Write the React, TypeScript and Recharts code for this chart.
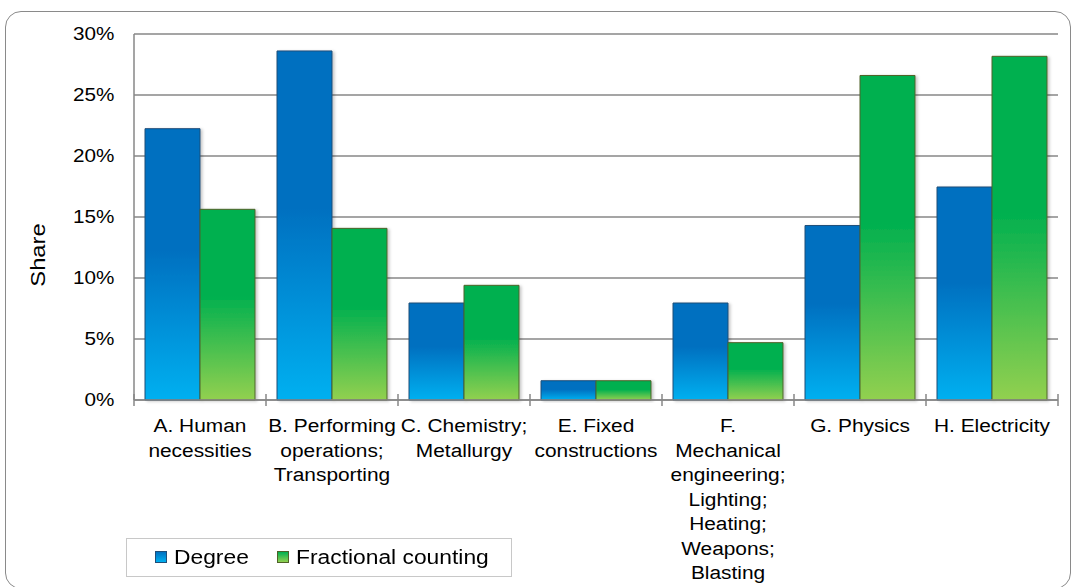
import React from 'react';
import { BarChart, Bar, XAxis, YAxis, CartesianGrid, Legend, Rectangle } from 'recharts';

// IPC sections, with the line breaks used under the axis
const categories = [
  'A. Human\nnecessities',
  'B. Performing\noperations;\nTransporting',
  'C. Chemistry;\nMetallurgy',
  'E. Fixed\nconstructions',
  'F.\nMechanical\nengineering;\nLighting;\nHeating;\nWeapons;\nBlasting',
  'G. Physics',
  'H. Electricity',
];
const degreeShare = [0.2224, 0.2861, 0.0795, 0.0158, 0.0795, 0.143, 0.1746];
const fractionalShare = [0.1563, 0.1407, 0.094, 0.0158, 0.047, 0.266, 0.2817];
const shareTicks = [0, 0.05, 0.1, 0.15, 0.2, 0.25, 0.3];

const data = categories.map((field, i) => ({
  field,
  degree: degreeShare[i],
  fractional: fractionalShare[i],
}));

const W = 1077;
const H = 587;
const MARGIN = { top: 34, right: 19, bottom: 0, left: 0 };
const Y_AXIS_W = 134;
const X_AXIS_H = 187;
const BAND = (W - MARGIN.left - MARGIN.right - Y_AXIS_W) / categories.length;

const FONT = '"Liberation Sans", Arial, Helvetica, sans-serif';
const GRID = '#878787';

const pct = (v: number) => `${Math.round(v * 100)}%`;

const CategoryTick = (props: any) => {
  const { x, y, payload, index } = props;
  const lines = String(payload.value).split('\n');
  const half = BAND / 2;
  return (
    <g>
      <line x1={x - half} x2={x - half} y1={y - 6} y2={y + 6} stroke={GRID} strokeWidth={1.5} />
      {index === categories.length - 1 && (
        <line x1={x + half} x2={x + half} y1={y - 6} y2={y + 6} stroke={GRID} strokeWidth={1.5} />
      )}
      <g transform={`translate(${x},${y})`}>
        <text transform="scale(1.16,1)" textAnchor="middle" fontSize={18} fontFamily={FONT} fill="#000">
          {lines.map((line, i) => (
            <tspan key={i} x={0} y={32.5 + i * 24.5}>
              {line}
            </tspan>
          ))}
        </text>
      </g>
    </g>
  );
};

const ShareTick = (props: any) => {
  const { x, y, payload } = props;
  return (
    <g transform={`translate(${x},${y})`}>
      <text transform="scale(1.15,1)" textAnchor="end" dy="0.36em" fontSize={18} fontFamily={FONT} fill="#000">
        {pct(payload.value)}
      </text>
    </g>
  );
};

const ShareLabel = () => (
  <g transform="translate(45,255) rotate(-90)">
    <text transform="scale(1.13,1)" textAnchor="middle" fontSize={21} fontFamily={FONT} fill="#000">
      Share
    </text>
  </g>
);

const swatch = (from: string, to: string, edge: string): React.CSSProperties => ({
  position: 'absolute',
  top: 12,
  width: 12,
  height: 12,
  background: `linear-gradient(${from}, ${to})`,
  border: `1px solid ${edge}`,
  boxSizing: 'border-box',
});

const legendText: React.CSSProperties = {
  position: 'absolute',
  top: 6,
  fontSize: 19.5,
  lineHeight: '24px',
  transform: 'scaleX(1.17)',
  transformOrigin: 'left center',
  whiteSpace: 'nowrap',
  color: '#000',
};

const LegendBox = () => (
  <div
    style={{
      position: 'relative',
      width: 386,
      height: 39,
      boxSizing: 'border-box',
      border: '1.5px solid #c8c8c8',
      background: '#fff',
      fontFamily: FONT,
    }}
  >
    <span style={{ ...swatch('#0070c0', '#00b0f0', '#1f4e79'), left: 28 }} />
    <span style={{ ...legendText, left: 47 }}>Degree</span>
    <span style={{ ...swatch('#00b050', '#92d050', '#4f6228'), left: 150 }} />
    <span style={{ ...legendText, left: 169 }}>Fractional counting</span>
  </div>
);

const ShadowBar = (props: any) => <Rectangle {...props} filter="url(#barShadow)" />;

export default function App() {
  return (
    <div
      style={{
        position: 'absolute',
        left: 0,
        top: 0,
        width: W,
        height: H,
        overflow: 'hidden',
        background: '#fff',
        fontFamily: FONT,
      }}
    >
      <div
        style={{
          position: 'absolute',
          left: 5,
          top: 11,
          width: 1066,
          height: 578,
          boxSizing: 'border-box',
          border: '1.5px solid #8a8a8a',
          borderRadius: 16,
        }}
      />
      <BarChart width={W} height={H} data={data} margin={MARGIN} barGap={0} barSize={55}>
        <defs>
          <linearGradient id="degreeFill" x1="0" y1="0" x2="0" y2="1">
            <stop offset="0" stopColor="#0070c0" />
            <stop offset="0.45" stopColor="#0070c0" />
            <stop offset="1" stopColor="#00b0f0" />
          </linearGradient>
          <linearGradient id="fractionalFill" x1="0" y1="0" x2="0" y2="1">
            <stop offset="0" stopColor="#00b050" />
            <stop offset="0.45" stopColor="#00b050" />
            <stop offset="1" stopColor="#92d050" />
          </linearGradient>
          <filter id="barShadow" x="-10%" y="-10%" width="130%" height="125%">
            <feDropShadow dx="2" dy="1" stdDeviation="1.5" floodColor="#000" floodOpacity="0.22" />
          </filter>
        </defs>
        <CartesianGrid vertical={false} stroke={GRID} strokeWidth={1.5} />
        <XAxis
          dataKey="field"
          height={X_AXIS_H}
          interval={0}
          tickLine={false}
          tickSize={0}
          tickMargin={0}
          axisLine={{ stroke: GRID, strokeWidth: 1.5 }}
          tick={<CategoryTick />}
        />
        <YAxis
          width={Y_AXIS_W}
          domain={[0, 0.3]}
          ticks={shareTicks}
          interval={0}
          tickLine={false}
          tickSize={0}
          tickMargin={19.5}
          axisLine={{ stroke: GRID, strokeWidth: 1.5 }}
          tick={<ShareTick />}
          label={<ShareLabel />}
        />
        <Legend
          layout="horizontal"
          verticalAlign="middle"
          align="center"
          wrapperStyle={{ left: 126, top: 538, width: 387, height: 40 }}
          content={() => <LegendBox />}
        />
        <Bar
          dataKey="degree"
          name="Degree"
          fill="url(#degreeFill)"
          stroke="#1f4e79"
          strokeWidth={1}
          shape={ShadowBar}
          isAnimationActive={false}
        />
        <Bar
          dataKey="fractional"
          name="Fractional counting"
          fill="url(#fractionalFill)"
          stroke="#4f6228"
          strokeWidth={1}
          shape={ShadowBar}
          isAnimationActive={false}
        />
      </BarChart>
    </div>
  );
}
